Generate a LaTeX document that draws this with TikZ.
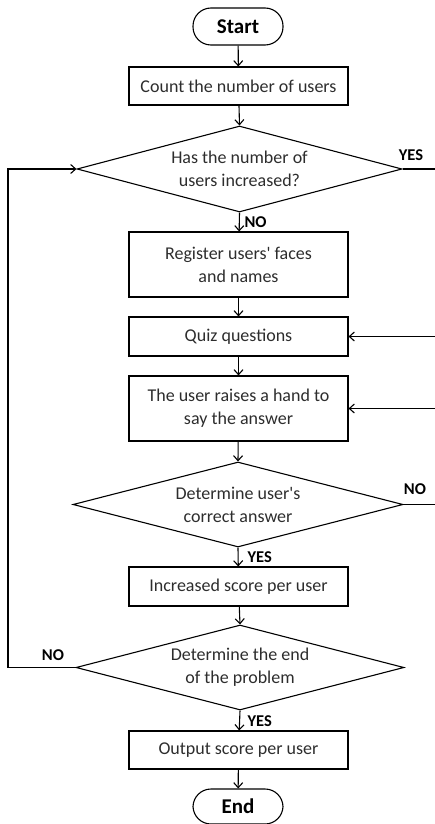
\documentclass[tikz,border=0pt]{standalone}
\usepackage{fontspec}
\setmainfont{Carlito}
\usetikzlibrary{shapes.geometric,arrows.meta}
\definecolor{txt}{RGB}{45,45,45}
\tikzset{
  every picture/.style={line width=1.1pt},
  box/.style={draw=black, rectangle, minimum width=219pt, inner sep=0pt, align=center,
    text=txt, font=\fontsize{18}{23}\selectfont},
  term/.style={draw=black, rectangle, rounded corners=18pt, minimum width=90pt, minimum height=37pt,
    inner sep=0pt, font=\fontsize{21}{24}\selectfont\bfseries},
  dec/.style={draw=black, diamond, inner sep=0pt},
  dectext/.style={align=center, text=txt, font=\fontsize{18}{23}\selectfont},
  lab/.style={font=\fontsize{16.5}{18}\selectfont\bfseries, inner sep=0pt},
  arr/.style={-{Straight Barb[length=5pt,width=9pt,line width=1.1pt]}},
}
\begin{document}
\begin{tikzpicture}[x=1pt,y=-1pt]
\useasboundingbox (0,0) rectangle (435,824);
\node[term] (start) at (238,26.5) {Start};
\node[box, minimum height=38pt] (count) at (238.5,86) {Count the number of users};
\node[dec, minimum width=325pt, minimum height=86pt,
  label={[dectext]center:Has the number of\\users increased?}] (d1) at (239.5,169) {};
\node[box, minimum height=65pt] (reg) at (238.5,264.5) {Register users\textquotesingle{} faces\\and names};
\node[box, minimum height=39pt] (quiz) at (238.5,336.5) {Quiz questions};
\node[box, minimum height=65pt] (raise) at (238.5,408.5) {The user raises a hand to\\say the answer};
\node[dec, minimum width=330pt, minimum height=85pt,
  label={[dectext]center:Determine user\textquotesingle s\\correct answer}] (d2) at (238,504.5) {};
\node[box, minimum height=39pt] (incr) at (238.5,586.5) {Increased score per user};
\node[dec, minimum width=328pt, minimum height=85pt,
  label={[dectext]center:Determine the end\\of the problem}] (d3) at (240,667.5) {};
\node[box, minimum height=38pt] (out) at (238.5,750) {Output score per user};
\node[term, minimum height=35pt] (end) at (238,806.5) {End};

\coordinate (ye1) at (435,169);
\coordinate (no2) at (435,504.5);
\coordinate (qin) at (435,336.5);
\coordinate (rin) at (435,408.5);
\coordinate (lb) at (8,667.5);
\coordinate (lt) at (8,169);

\draw[arr] (start) -- (count);
\draw[arr] (count) -- (d1.north);
\draw[arr] (d1.south) -- (reg);
\draw[arr] (reg) -- (quiz);
\draw[arr] (quiz) -- (raise);
\draw[arr] (raise) -- (d2.north);
\draw[arr] (d2.south) -- (incr);
\draw[arr] (incr) -- (d3.north);
\draw[arr] (d3.south) -- (out);
\draw[arr] (out) -- (end);
\draw (d1.east) -- (ye1);
\draw (d2.east) -- (no2);
\draw[arr] (qin) -- (quiz.east);
\draw[arr] (rin) -- (raise.east);
\draw[arr] (d3.west) -- (lb) -- (lt) -- (d1.west);

\node[lab, anchor=west] (lno1) at (244,222) {NO};
\node[lab] (lyes1) at (411,155) {YES};
\node[lab, anchor=west] (lyes2) at (247,557) {YES};
\node[lab] (lno2) at (415,489) {NO};
\node[lab] (lno3) at (53,655) {NO};
\node[lab, anchor=west] (lyes3) at (247,721) {YES};
\end{tikzpicture}
\end{document}
